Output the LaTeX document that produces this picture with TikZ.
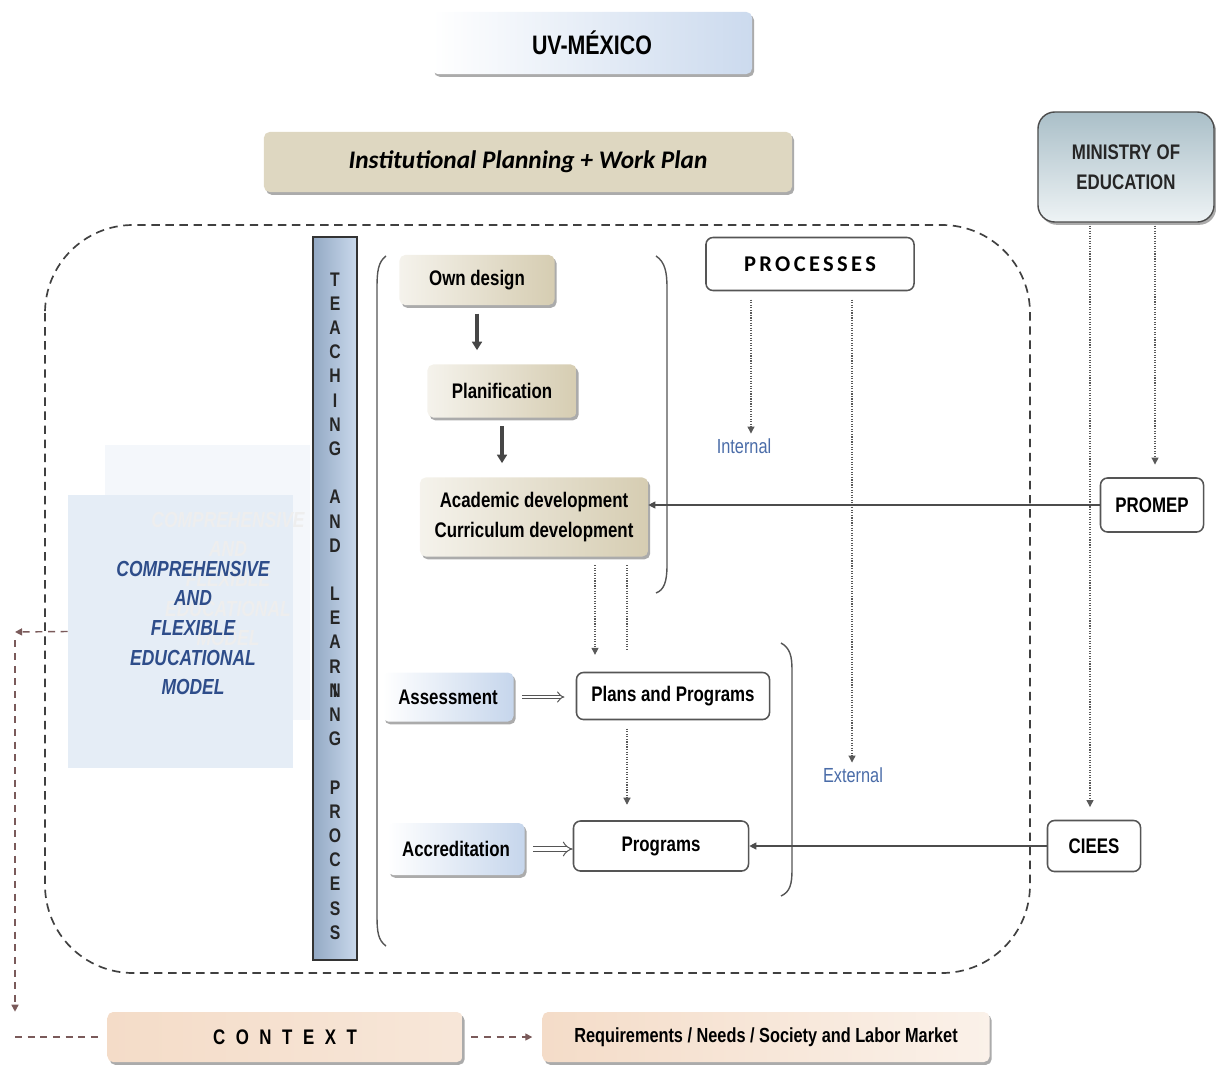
\documentclass[tikz,border=0pt]{standalone}
\usepackage{fontspec}
\setmainfont{Liberation Sans}
\newfontfamily\narrowfont{Liberation Sans}[FakeStretch=0.8]
\newfontfamily\calfont{Carlito}
\newfontfamily\spacedfont{Carlito}[LetterSpace=15]
\newfontfamily\ctxfont{Liberation Sans}[FakeStretch=0.8,LetterSpace=50]
\usetikzlibrary{arrows.meta,shadows,positioning}
\definecolor{tanc}{HTML}{D6CDB2}
\definecolor{skyc}{HTML}{C6D6EC}
\definecolor{peachc}{HTML}{F4DCC8}
\definecolor{ctxmid}{HTML}{DCBDAC}
\definecolor{linec}{HTML}{555555}
\definecolor{labelc}{HTML}{4A6CA8}
\definecolor{modelc}{HTML}{2E4D8A}
\definecolor{ctxc}{HTML}{7A5A5A}
\definecolor{colL}{HTML}{93A9C4}
\definecolor{colR}{HTML}{CAD9EC}
\definecolor{minT}{HTML}{AABFC8}
\definecolor{minB}{HTML}{EEF3F5}

\begin{document}
\begin{tikzpicture}[x=0.025cm, y=-0.025cm,
    shade box/.style={rounded corners=4pt, inner sep=0pt,
      drop shadow={shadow xshift=1.5pt, shadow yshift=-2pt, fill=gray!80!black, opacity=0.55},
      font=\narrowfont\bfseries\fontsize{15}{18}\selectfont},
    tanbox/.style={shade box, left color=tanc!25, right color=tanc},
    bluebox/.style={shade box, left color=white, right color=skyc},
    linebox/.style={rounded corners=5pt, draw=linec, line width=1.1pt, fill=white, inner sep=0pt,
      font=\narrowfont\bfseries\fontsize{15}{18}\selectfont},
    fatarrow/.style={-{Triangle[width=7pt,length=6pt]}, line width=2.6pt, gray!55!black,
      shorten <=6pt, shorten >=10pt},
    dotarrow/.style={densely dotted, line width=0.8pt, gray!70!black, -{Triangle[width=5pt,length=5pt]}},
    thinarrow/.style={gray!60!black, line width=0.8pt, -{Triangle[width=5pt,length=5pt]}},
    dblarrow/.style={double=white, double distance=2pt, line width=0.7pt, linec, -{Implies}},
    ctxarrow/.style={dashed, dash pattern=on 5pt off 4pt, line width=1pt, ctxc, -{Triangle[width=5pt,length=5pt]}},
    tag/.style={text=labelc, font=\narrowfont\fontsize{14.5}{16}\selectfont},
    bracket/.style={linec, line width=1pt}
  ]
  \useasboundingbox (0,0) rectangle (1216,1065);

  % top of the chart
  \node[shade box, left color=white, right color=skyc!90, minimum width=8cm, minimum height=1.55cm,
    font=\narrowfont\bfseries\fontsize{19}{22}\selectfont] (uv) at (592,43) {UV-MÉXICO};
  \node[shade box, fill=tanc!80, minimum width=13.2cm, minimum height=1.5cm,
    font=\calfont\bfseries\itshape\fontsize{18}{22}\selectfont] (inst) at (528,162) {Institutional Planning + Work Plan};
  \node[shade box, rounded corners=12pt, draw=gray!60!black, line width=1pt, top color=minT, bottom color=minB,
    minimum width=4.4cm, minimum height=2.75cm, align=center, text=black!85,
    font=\narrowfont\bfseries\fontsize{15}{21}\selectfont] (ministry) at (1126,167) {MINISTRY OF\\EDUCATION};

  % dashed frame
  \draw[dashed, dash pattern=on 6pt off 4pt, line width=1.2pt, gray!50!black, rounded corners=2.2cm]
    (45,225) rectangle (1030,973);

  % educational model
  \fill[skyc!20] (105,445) rectangle (310,720);
  \node[fill=skyc!45, minimum width=5.625cm, minimum height=6.825cm, inner sep=0pt] (modelbox) at (180.5,631.5) {};
  \node[text=gray!13, align=center, font=\narrowfont\bfseries\itshape\fontsize{15.5}{21}\selectfont]
    (ghost) at (228,579) {COMPREHENSIVE\\AND\\FLEXIBLE\\EDUCATIONAL\\MODEL};
  \node[text=modelc, align=center, font=\narrowfont\bfseries\itshape\fontsize{15.5}{21}\selectfont]
    (model) at (193,628) {COMPREHENSIVE\\AND\\FLEXIBLE\\EDUCATIONAL\\MODEL};

  % teaching and learning column
  \node[draw=gray!40!black, line width=1pt, left color=colL, right color=colR,
    minimum width=1.1cm, minimum height=18.075cm, inner sep=0pt] (teach) at (335,598.5) {};
  \node[align=center, text=black!85, font=\narrowfont\bfseries\fontsize{14}{17.2}\selectfont] (teachtxt) at (335,606)
    {T\\E\\A\\C\\H\\I\\N\\G\\[17.2pt]A\\N\\D\\[17.2pt]L\\E\\A\\R\\\makebox[0pt]{N}\makebox[0pt]{I}\\N\\G\\[17.2pt]P\\R\\O\\C\\E\\S\\S};

  % brackets
  \draw[bracket] (386,256) .. controls (378,262) and (377,272) .. (377,288) -- (377,915)
    .. controls (377,932) and (378,940) .. (386,946);
  \draw[bracket] (656,256) .. controls (665,262) and (667,272) .. (667,288) -- (667,565)
    .. controls (667,582) and (664,590) .. (656,593);
  \draw[bracket] (781,643) .. controls (790,648) and (792,656) .. (792,670) -- (792,870)
    .. controls (792,884) and (790,892) .. (781,896);

  % internal steps
  \node[tanbox, minimum width=3.875cm, minimum height=1.25cm] (own) at (477,280) {Own design};
  \node[tanbox, minimum width=3.725cm, minimum height=1.325cm] (plan) at (502,391) {Planification};
  \node[tanbox, minimum width=5.7cm, minimum height=1.975cm, align=center,
    font=\narrowfont\bfseries\fontsize{15}{21}\selectfont] (acad) at (534,517) {Academic development\\Curriculum development};

  \node[linebox, minimum width=5.2cm, minimum height=1.325cm,
    font=\spacedfont\bfseries\fontsize{16}{18}\selectfont] (proc) at (810,264) {PROCESSES};
  \node[tag] (int) at (744,446) {Internal};
  \node[tag] (ext) at (853,775) {External};
  \node[linebox, minimum width=2.575cm, minimum height=1.35cm] (promep) at (1152,505) {PROMEP};

  \node[bluebox, minimum width=3.275cm, minimum height=1.225cm] (assess) at (448,697) {Assessment};
  \node[linebox, minimum width=4.825cm, minimum height=1.175cm] (plans) at (673,696) {Plans and Programs};
  \node[bluebox, minimum width=3.425cm, minimum height=1.3cm] (accr) at (456,849) {Accreditation};
  \node[linebox, minimum width=4.375cm, minimum height=1.25cm] (progs) at (661,846) {Programs};
  \node[linebox, minimum width=2.325cm, minimum height=1.275cm] (ciees) at (1094,846) {CIEES};

  % context
  \node[shade box, left color=peachc, middle color=ctxmid, right color=peachc!70, minimum width=8.875cm,
    minimum height=1.25cm, font=\ctxfont\bfseries\fontsize{15}{18}\selectfont] (context) at (285,1037) {CONTEXT};
  \node[shade box, left color=peachc, right color=peachc!40, minimum width=11.175cm, minimum height=1.25cm,
    font=\narrowfont\bfseries\fontsize{14.5}{18}\selectfont] (req) at (766,1037) {Requirements / Needs / Society and Labor Market};
  \coordinate (lft) at (15,632);

  % connectors
  \draw[fatarrow] (own.south) -- (own.south |- plan.north);
  \draw[fatarrow] (plan.south) -- (plan.south |- acad.north);
  \draw[dotarrow, shorten <=6pt, shorten >=12pt] ([xshift=1.525cm]acad.south) -- ([xshift=1.525cm]acad.south |- plans.north);
  \draw[dotarrow, -, shorten <=6pt, shorten >=16pt] ([xshift=2.325cm]acad.south) -- ([xshift=2.325cm]acad.south |- plans.north);
  \draw[dotarrow, shorten <=6pt, shorten >=11pt] ([xshift=-1.15cm]plans.south) -- ([xshift=-1.15cm]plans.south |- progs.north);
  \draw[dotarrow, shorten <=6pt] ([xshift=-1.475cm]proc.south) -- ([xshift=-1.475cm]proc.south |- int.north);
  \draw[dotarrow, shorten <=6pt] ([xshift=1.05cm]proc.south) -- ([xshift=1.05cm]proc.south |- ext.north);
  \draw[dotarrow, shorten <=2pt, shorten >=9pt] ([xshift=0.725cm]ministry.south) -- ([xshift=0.725cm]ministry.south |- promep.north);
  \draw[dotarrow, shorten <=2pt, shorten >=9pt] ([xshift=-0.9cm]ministry.south) -- ([xshift=-0.9cm]ministry.south |- ciees.north);
  \draw[thinarrow] (promep.west) -- (promep.west -| acad.east);
  \draw[thinarrow] (ciees.west) -- (ciees.west -| progs.east);
  \draw[dblarrow, shorten <=6pt, shorten >=8pt] (assess.east) -- (assess.east -| plans.west);
  \draw[dblarrow, double distance=3pt, shorten <=6pt] (accr.east) -- (accr.east -| progs.west);
  \draw[ctxarrow, shorten <=6pt, shorten >=7pt] (context.east) -- (req.west);
  \draw[ctxarrow] (modelbox.west) -- (lft);
  \draw[ctxarrow, shorten <=6pt] (lft) -- (lft |- context.north);
  \draw[ctxarrow, -, shorten >=6pt] (lft |- context.west) -- (context.west);
\end{tikzpicture}
\end{document}
